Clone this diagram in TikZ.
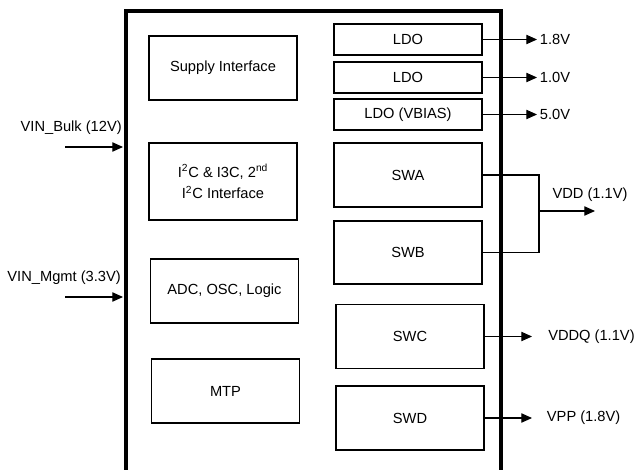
\documentclass[tikz,border=0pt]{standalone}
\usepackage{fontspec}
\setmainfont{Liberation Sans}
\usetikzlibrary{positioning,arrows.meta,calc}

\begin{document}
\begin{tikzpicture}
[x=0.75pt, y=-0.75pt,
font=\fontsize{11}{16}\selectfont,
block/.style ={rectangle, draw, line width=0.8pt,
minimum width=111pt, align=center, inner sep=0pt},
tall/.style ={block, minimum height=48pt},
ldo/.style ={block, minimum height=23.25pt},
chip/.style ={draw, line width=2.5pt},
line/.style ={draw, line width=0.8pt, -{Triangle[length=8pt,width=7pt]}},
wire/.style ={draw, line width=0.8pt},
lbl/.style ={inner sep=0pt}]
\useasboundingbox (0,0) rectangle (635,470);
% package outline, open at the bottom
\draw[chip] (126,476) -- (126,11) -- (501,11) -- (501,476);
% left column
\node [tall] (sup) at (223,68) {Supply Interface};
\node [block, minimum height=57.75pt] (i2c) at (223,181.5)
{I\textsuperscript{2}C \& I3C, 2\textsuperscript{nd}\\I\textsuperscript{2}C Interface};
\node [tall] (adc) at (224.5,291) {ADC, OSC, Logic};
\node [tall] (mtp) at (225.5,391) {MTP};
% right column
\node [ldo] (ldoa) at (408,39.5) {LDO};
\node [ldo] (ldob) at (408,77.5) {LDO};
\node [ldo] (ldoc) at (408,114.5) {LDO (VBIAS)};
\node [tall] (swa) at (408,175) {SWA};
\node [tall, minimum height=47.25pt] (swb) at (408,252.5) {SWB};
\node [tall] (swc) at (410,336.5) {SWC};
\node [tall] (swd) at (410,418) {SWD};
% inputs
\coordinate (bulkin) at (65,147);
\coordinate (bulkpin) at (123,147);
\coordinate (mgmtin) at (65,297);
\coordinate (mgmtpin) at (123,297);
\node [lbl, anchor=east] (bulk) at (122,128) {VIN\_Bulk (12V)};
\node [lbl, anchor=east] (mgmt) at (121,278) {VIN\_Mgmt (3.3V)};
\draw[line] (bulkin) -- (bulkpin);
\draw[line] (mgmtin) -- (mgmtpin);
% outputs
\coordinate (outa) at (537,39.5);
\coordinate (outb) at (537,77.5);
\coordinate (outc) at (537,114.5);
\coordinate (vdd) at (539,211);
\coordinate (vddout) at (595,211);
\coordinate (outc2) at (532,336.5);
\coordinate (outd) at (532,418);
\draw[line] (ldoa.east) -- (outa);
\draw[line] (ldob.east) -- (outb);
\draw[line] (ldoc.east) -- (outc);
\draw[wire] (swa.east) -| (vdd) |- (swb.east);
\draw[line] (vdd) -- (vddout);
\draw[line] (swc.east) -- (outc2);
\draw[line] (swd.east) -- (outd);
\node [lbl, right=2pt of outa] (va) {1.8V};
\node [lbl, right=2pt of outb] (vb) {1.0V};
\node [lbl, right=2pt of outc] (vc) {5.0V};
\node [lbl] (vddl) at (590,195) {VDD (1.1V)};
\node [lbl, right=12pt of outc2] (vddq) {VDDQ (1.1V)};
\node [lbl, right=11pt of outd] (vpp) {VPP (1.8V)};
\end{tikzpicture}
\end{document}
